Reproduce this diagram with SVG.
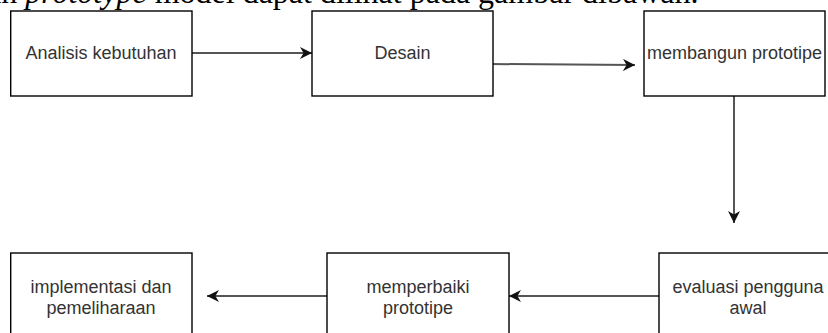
<svg xmlns="http://www.w3.org/2000/svg" width="828" height="333" viewBox="0 0 828 333">
  <style>
    .box { fill: #ffffff; stroke: #000000; stroke-width: 1.4; }
    .lbl { font-family: "Liberation Sans", Arial, sans-serif; font-size: 18px; fill: #333333; text-anchor: middle; }
    .edge { fill: none; stroke: #555555; stroke-width: 2; }
    .doc { font-family: "Liberation Serif", "Times New Roman", serif; font-size: 32px; fill: #000000; }
  </style>
  <defs>
    <marker id="arrow" viewBox="0 0 10 10" refX="10" refY="5" markerWidth="6" markerHeight="6" markerUnits="strokeWidth" orient="auto">
      <path d="M0,0 L10,5 L0,10 L3,5 Z" fill="#111111"/>
    </marker>
  </defs>
  <rect width="828" height="333" fill="#ffffff"/>

  <text class="doc" x="-29" y="3">kan <tspan font-style="italic">prototype</tspan> model dapat dilihat pada gambar dibawah.</text>

  <g id="connectors">
    <line class="edge" x1="192" y1="53" x2="312" y2="53" marker-end="url(#arrow)"/>
    <line class="edge" x1="490" y1="64" x2="635" y2="65" marker-end="url(#arrow)"/>
    <line class="edge" x1="734" y1="96" x2="734" y2="223" marker-end="url(#arrow)"/>
    <line class="edge" x1="659" y1="296" x2="509" y2="296" marker-end="url(#arrow)"/>
    <line class="edge" x1="327" y1="296" x2="207" y2="296" marker-end="url(#arrow)"/>
  </g>

  <g id="analisis">
    <rect class="box" x="10.7" y="11" width="181.3" height="85"/>
    <text class="lbl" x="101" y="59">Analisis kebutuhan</text>
  </g>
  <g id="desain">
    <rect class="box" x="312" y="11" width="181" height="85"/>
    <text class="lbl" x="402.5" y="59">Desain</text>
  </g>
  <g id="membangun">
    <rect class="box" x="644" y="11" width="181" height="85"/>
    <text class="lbl" x="734.5" y="59">membangun prototipe</text>
  </g>
  <g id="evaluasi">
    <rect class="box" x="659" y="253" width="178" height="85"/>
    <text class="lbl" x="748" y="293">evaluasi pengguna</text>
    <text class="lbl" x="748" y="313.5">awal</text>
  </g>
  <g id="memperbaiki">
    <rect class="box" x="327" y="253" width="182" height="85"/>
    <text class="lbl" x="418" y="293">memperbaiki</text>
    <text class="lbl" x="418" y="313.5">prototipe</text>
  </g>
  <g id="implementasi">
    <rect class="box" x="10.7" y="253" width="181.3" height="85"/>
    <text class="lbl" x="101" y="293">implementasi dan</text>
    <text class="lbl" x="101" y="313.5">pemeliharaan</text>
  </g>
</svg>
